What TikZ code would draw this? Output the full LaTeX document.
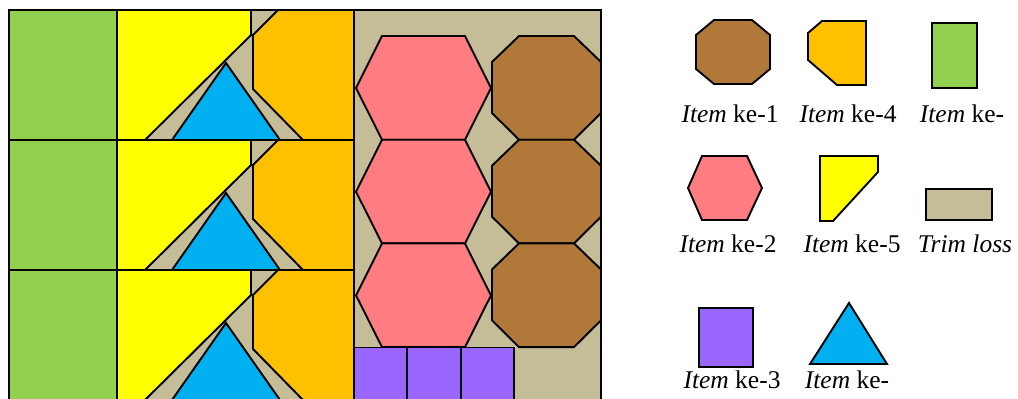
\documentclass[tikz,border=0pt]{standalone}
\usepackage{fontspec}
\setmainfont{Liberation Serif}
\newfontfamily\legendfont{Liberation Serif}

\definecolor{itemgreen}{HTML}{92D050}
\definecolor{itemyellow}{HTML}{FFFF00}
\definecolor{itemblue}{HTML}{00B0F0}
\definecolor{itemorange}{HTML}{FFC000}
\definecolor{itempink}{HTML}{FF7C80}
\definecolor{itembrown}{HTML}{B07839}
\definecolor{itempurple}{HTML}{9966FF}
\definecolor{trimloss}{HTML}{C4BD97}

\tikzset{
  piece/.style={draw=black, line width=1.9pt, line join=miter},
  legendtext/.style={anchor=base, inner sep=0pt, font=\legendfont\fontsize{25.5}{28}\selectfont}
}

\begin{document}
\begin{tikzpicture}[x=1pt, y=-1pt]
\useasboundingbox (0,0) rectangle (1018,399);

% board
\fill[trimloss] (9,10) rectangle (601,400);

\foreach \r in {0,1,2} {
  \begin{scope}[shift={(0,130*\r)}]
    \draw[piece, fill=itemgreen] (9,10) rectangle (117,140);
    \draw[piece, fill=itemyellow] (117,10) -- (251,10) -- (251,35) -- (145,140) -- (117,140) -- cycle;
    \draw[piece, fill=itemblue] (226,63) -- (280,140) -- (172,140) -- cycle;
    \draw[piece, fill=itemorange] (278,10) -- (354,10) -- (354,140) -- (303,140) -- (253,89) -- (253,35) -- cycle;
  \end{scope}
}

\foreach \r in {0,1,2} {
  \begin{scope}[shift={(0,103.7*\r)}]
    \draw[piece, fill=itempink] (382,36) -- (465,36) -- (491,88) -- (465,139.7) -- (382,139.7) -- (356,88) -- cycle;
    \draw[piece, fill=itembrown] (519,36) -- (574,36) -- (601,62) -- (601,113) -- (574,139.7) -- (519,139.7) -- (492,113) -- (492,62) -- cycle;
  \end{scope}
}

\foreach \x/\w in {354/407, 407/461, 461/514}
  \draw[piece, fill=itempurple] (\x,347.5) rectangle (\w,400);

\draw[piece, fill=none] (9,10) rectangle (601,400);

% legend
\draw[piece, fill=itembrown] (714,20) -- (752,20) -- (770,35) -- (770,69) -- (752,84) -- (714,84) -- (696,69) -- (696,35) -- cycle;
\draw[piece, fill=itemorange] (822,21) -- (866,21) -- (866,85) -- (837,85) -- (808,60) -- (808,33) -- cycle;
\draw[piece, fill=itemgreen] (932,23) rectangle (977,88);

\draw[piece, fill=itempink] (702,156) -- (747,156) -- (762,188) -- (747,220) -- (702,220) -- (688,188) -- cycle;
\draw[piece, fill=itemyellow] (820,156) -- (878,156) -- (878,172) -- (833,221) -- (820,221) -- cycle;
\draw[piece, fill=trimloss] (926,189) rectangle (992,220);

\draw[piece, fill=itempurple] (699,308) rectangle (753,367);
\draw[piece, fill=itemblue] (849,303) -- (887,364) -- (810,364) -- cycle;

\node[legendtext] (l1) at (730,122) {\textit{Item} ke-1};
\node[legendtext] (l4) at (848,122) {\textit{Item} ke-4};
\node[legendtext] (l6) at (962,122) {\textit{Item} ke-};
\node[legendtext] (l2) at (728,252) {\textit{Item} ke-2};
\node[legendtext] (l5) at (852,252) {\textit{Item} ke-5};
\node[legendtext] (lt) at (965,252) {\textit{Trim loss}};
\node[legendtext] (l3) at (732,388) {\textit{Item} ke-3};
\node[legendtext] (l7) at (847,388) {\textit{Item} ke-};
\end{tikzpicture}
\end{document}
